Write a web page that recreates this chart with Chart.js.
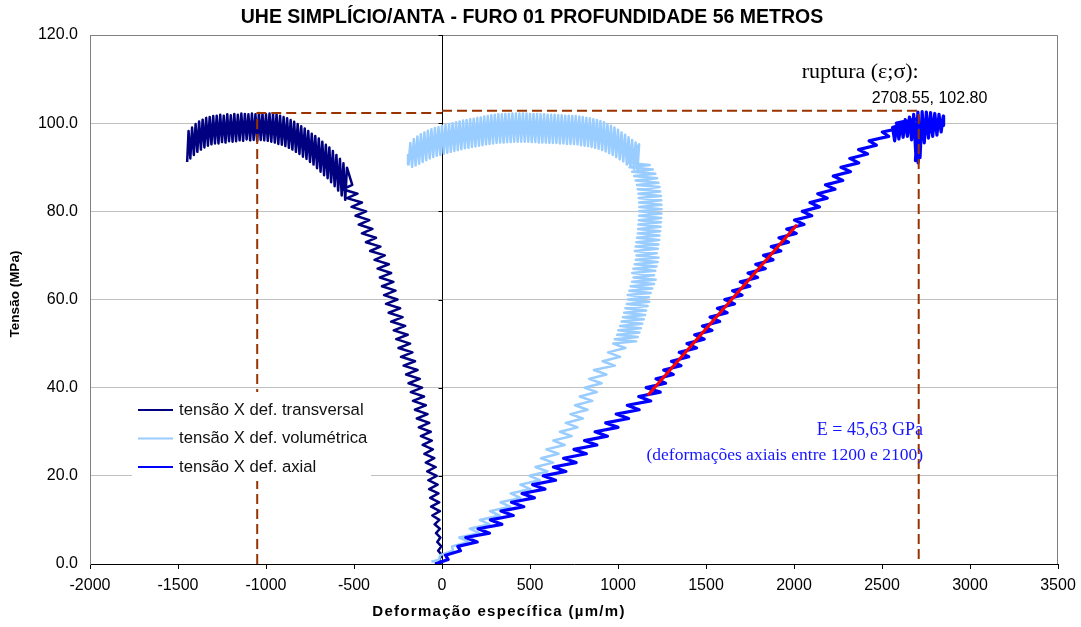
<!DOCTYPE html>
<html>
<head>
<meta charset="utf-8">
<style>
  html, body { margin: 0; padding: 0; background: #fff; }
</style>
</head>
<body>
<canvas id="grafico" width="1081" height="627"></canvas>
<script src="https://cdn.jsdelivr.net/npm/chart.js@4.4.0/dist/chart.umd.min.js"></script>
<script>
// eixos
const xTicks = [-2000, -1500, -1000, -500, 0, 500, 1000, 1500, 2000, 2500, 3000, 3500];
const yTicks = [0, 20, 40, 60, 80, 100, 120];

// ensaio: [deformação (µm/m), tensão (MPa)]
const transversal = [
  [-5,0],[-17,1],[0,2],[-22,3],[-4,4],[-27,5],[-9,6],[-34,7],[-12,8],[-42,9],[-15,10],[-55,11],[-12,12],
  [-62,13],[-16,14],[-67,15],[-20,16],[-73,17],[-25,18],[-78,19],[-30,20],[-84,21],[-36,22],[-92,23],
  [-44,24],[-100,25],[-52,26],[-110,27],[-58,28],[-120,29],[-64,30],[-132,31],[-72,32],[-143,33],[-82,34],
  [-154,35],[-92,36],[-165,37],[-102,38],[-177,39],[-113,40],[-190,41],[-126,42],[-204,43],[-139,44],
  [-218,45],[-153,46],[-233,47],[-168,48],[-247,49],[-181,50],[-260,51],[-195,52],[-274,53],[-209,54],
  [-289,55],[-224,56],[-303,57],[-238,58],[-318,59],[-253,60],[-329,61],[-264,62],[-341,63],[-276,64],
  [-353,65],[-289,66],[-366,67],[-302,68],[-383,69],[-325,70],[-408,71],[-350,72],[-432,73],[-375,74],
  [-455,75],[-395,76],[-473,77],[-413,78],[-491,79],[-431,80],[-514,81],[-455,82],[-540,83],[-480,84],
  [-565,85],[-510,86],
  [-540,89.9],[-550,82.6],[-560,90.9],[-570,83.6],[-580,91.9],[-590,84.7],[-600,92.8],[-610,85.7],
  [-620,93.7],[-630,86.6],[-640,94.5],[-650,87.5],[-660,95.1],[-670,88.2],[-680,95.8],[-690,89.0],
  [-700,96.5],[-710,89.8],[-720,97.1],[-730,90.6],[-740,97.6],[-750,91.2],[-760,98.2],[-770,91.9],
  [-780,98.8],[-790,92.4],[-800,99.3],[-810,93.0],[-820,99.8],[-830,93.5],[-840,100.3],[-850,94.0],
  [-860,100.7],[-870,94.4],[-880,101.1],[-890,94.8],[-900,101.4],[-910,95.1],[-920,101.7],[-930,95.3],
  [-940,102.0],[-950,95.6],[-960,102.1],[-970,95.8],[-980,102.2],[-990,96.0],[-1000,102.0],[-1010,96.1],
  [-1020,102.2],[-1030,96.2],[-1040,102.3],[-1050,96.0],[-1060,102.0],[-1070,96.2],[-1080,102.2],
  [-1090,96.1],[-1100,102.0],[-1110,96.3],[-1120,102.1],[-1130,96.0],[-1140,102.2],[-1150,96.1],
  [-1160,101.9],[-1170,95.9],[-1180,102.1],[-1190,95.8],[-1200,101.8],[-1210,95.9],[-1220,102.0],
  [-1230,95.6],[-1240,101.7],[-1250,95.7],[-1260,101.9],[-1270,95.4],[-1280,101.7],[-1290,95.4],
  [-1300,101.6],[-1310,95.2],[-1320,101.4],[-1330,94.9],[-1340,101.2],[-1350,94.5],[-1360,100.8],
  [-1370,94.0],[-1380,100.4],[-1390,93.5],[-1400,99.8],[-1410,92.8],[-1420,99.0],[-1430,92.0],
  [-1440,98.2],[-1448,91.2]
];

const volumetrica = [
  [-60,0.5],[-17,1],[-10,2],[63,3],[57,4],[152,5],[98,6],[212,7],[158,8],[270,9],[215,10],[327,11],
  [273,12],[387,13],[333,14],[445,15],[390,16],[502,17],[445,18],[555,19],[498,20],[599,21],[531,22],
  [632,23],[563,24],[662,25],[593,26],[697,27],[633,28],[737,29],[670,30],[770,31],[703,32],[800,33],
  [730,34],[827,35],[756,36],[854,37],[783,38],[880,39],[810,40],[907,41],[836,42],[934,43],[863,44],
  [982,45],[913,46],[1012,47],[943,48],[1042,49],[973,50],
  [1103,50.5],[982,51],[1112,51.5],[995,52],[1122,52.5],[1002,53],[1130,53.5],[1012,54],[1138,54.5],
  [1020,55],[1146,55.5],[1028,56],[1154,56.5],[1035,57],[1160,57.5],[1042,58],[1168,58.5],[1050,59],
  [1178,59.5],[1056,60],[1176,60.5],[1055,61],[1186,61.5],[1064,62],[1195,62.5],[1072,63],[1205,63.5],
  [1080,64],[1214,64.5],[1088,65],[1205,65.5],[1081,66],[1212,66.5],[1087,67],[1219,67.5],[1095,68],
  [1225,68.5],[1101,69],[1231,69.5],[1105,70],[1220,70.5],[1096,71],[1226,71.5],[1100,72],[1230,72.5],
  [1104,73],[1234,73.5],[1108,74],[1236,74.5],[1112,75],[1240,75.5],[1114,76],[1242,76.5],[1116,77],
  [1244,77.5],[1118,78],[1246,78.5],[1120,79],[1247,79.5],[1120,80],[1248,80.5],[1121,81],[1247,81.5],
  [1120,82],[1246,82.5],[1118,83],[1244,83.5],[1116,84],[1240,84.5],[1112,85],[1236,85.5],[1108,86],
  [1230,86.5],[1100,87],[1222,87.5],[1092,88],[1212,88.5],[1080,89],[1198,89.5],[1066,90],[1180,90.5],
  [1050,91],
  [1120,95.2],[1110,89.0],[1100,95.6],[1090,89.6],[1080,96.2],[1070,90.1],[1060,96.8],[1050,90.6],
  [1040,97.4],[1030,91.3],[1020,97.9],[1010,91.8],[1000,98.5],[990,92.3],[980,99.0],[970,92.8],
  [960,99.4],[950,93.2],[940,99.8],[930,93.6],[920,100.2],[910,93.9],[900,100.5],[890,94.2],
  [880,100.7],[870,94.4],[860,100.9],[850,94.6],[840,101.1],[830,94.8],[820,101.2],[810,94.9],
  [800,101.4],[790,95.0],[780,101.5],[770,95.2],[760,101.6],[750,95.3],[740,101.6],[730,95.3],
  [720,101.7],[710,95.3],[700,101.7],[690,95.4],[680,101.8],[670,95.4],[660,101.8],[650,95.5],
  [640,101.9],[630,95.5],[620,101.9],[610,95.5],[600,101.9],[590,95.6],[580,102.0],[570,95.6],
  [560,102.0],[550,95.6],[540,102.1],[530,95.7],[520,102.1],[510,95.7],[500,102.1],[490,95.8],
  [480,102.2],[470,95.8],[460,102.2],[450,95.8],[440,102.2],[430,95.8],[420,102.2],[410,95.8],
  [400,102.2],[390,95.7],[380,102.1],[370,95.7],[360,102.1],[350,95.6],[340,102.0],[330,95.6],
  [320,102.0],[310,95.5],[300,101.9],[290,95.4],[280,101.8],[270,95.3],[260,101.6],[250,95.2],
  [240,101.5],[230,95.0],[220,101.3],[210,94.9],[200,101.2],[190,94.7],[180,101.0],[170,94.6],
  [160,100.9],[150,94.4],[140,100.7],[130,94.3],[120,100.6],[110,94.1],[100,100.4],[90,93.9],
  [80,100.2],[70,93.7],[60,100.0],[50,93.5],[40,99.8],[30,93.3],[20,99.6],[10,93.1],[0,99.4],
  [-10,92.8],[-20,99.1],[-30,92.6],[-40,98.9],[-50,92.3],[-60,98.6],[-70,92.0],[-80,98.3],[-90,91.6],
  [-100,97.9],[-110,91.2],[-120,97.5],[-130,90.8],[-140,97.0],[-150,90.4],[-160,96.4],[-170,90.1],
  [-180,95.5],[-190,90.6],[-193,93]
];

const axial = [
  [-40,0],[35,1],[20,2],[105,3],[90,4],[200,5],[135,6],[270,7],[205,8],[340,9],[275,10],[405,11],
  [335,12],[465,13],[395,14],[525,15],[455,16],[585,17],[515,18],[645,19],[575,20],[704,21],[633,22],
  [762,23],[691,24],[820,25],[750,26],[880,27],[810,28],[940,29],[870,30],[1000,31],[930,32],[1060,33],
  [990,34],[1120,35],[1053,36],[1186,37],[1118,38],[1240,39],[1160,40],[1270,41],[1216,42],[1314,43],
  [1260,44],[1358,45],[1304,46],[1402,47],[1348,48],[1446,49],[1392,50],[1490,51],[1436,52],[1534,53],
  [1480,54],[1578,55],[1523,56],[1620,57],[1565,58],[1662,59],[1607,60],[1705,61],[1651,62],[1749,63],
  [1695,64],[1793,65],[1739,66],[1837,67],[1783,68],[1881,69],[1827,70],[1925,71],[1871,72],[1969,73],
  [1915,74],[2013,75],[1959,76],[2057,77],[2003,78],[2101,79],[2047,80],[2145,81],[2091,82],[2189,83],
  [2135,84],[2233,85],[2179,86],[2277,87],[2223,88],[2321,89],[2267,90],[2368,91],[2317,92],[2418,93],
  [2367,94],[2468,95],[2427,96],[2538,97],[2502,98],[2618,99],[2582,100],[2698,101],
  [2560,99.0],[2572,96.0],[2584,99.6],[2596,96.4],[2608,100.2],[2620,96.8],[2632,100.8],[2644,97.0],
  [2656,101.4],[2668,96.2],[2680,102.0],[2692,93.0],[2704,102.5],[2716,92.2],[2728,102.6],[2740,95.5],
  [2752,102.5],[2764,96.6],[2776,102.4],[2788,97.0],[2800,102.2],[2812,97.3],[2824,102.0],[2836,98.0],
  [2848,101.6],[2850,99.5],[2720,97],[2705,91],[2712,99.5],[2690,91.5],[2700,98]
];

// ruptura e módulo de elasticidade
const ruptura = { eps: 2708.55, sig: 102.80 };
const picoTransversal = { eps: -1050, sig: 102.3 };
const moduloE = 45.63;            // GPa
const ajusteEps = [1170, 2017];   // trecho da reta de ajuste
const ajusteSig0 = 38.3;

const pts = arr => arr.map(p => ({ x: p[0], y: p[1] }));
const fonte = '"Liberation Sans", Arial, sans-serif';
const serif = '"Liberation Serif", "Times New Roman", serif';

const retaAjuste = [
  { x: ajusteEps[0], y: ajusteSig0 },
  { x: ajusteEps[1], y: ajusteSig0 + moduloE * 1e-3 * (ajusteEps[1] - ajusteEps[0]) }
];

const extras = {
  id: 'extras',
  beforeDatasetsDraw(chart) {
    const { ctx, chartArea: a, scales: { x, y } } = chart;
    ctx.save();
    ctx.lineWidth = 1;
    ctx.strokeStyle = '#808080';
    ctx.beginPath();
    ctx.moveTo(a.left, a.top + 0.5);
    ctx.lineTo(a.right - 0.5, a.top + 0.5);
    ctx.lineTo(a.right - 0.5, a.bottom);
    ctx.stroke();
    // eixo das tensões passando em deformação zero
    const x0 = Math.round(x.getPixelForValue(0)) + 0.5;
    ctx.strokeStyle = '#000';
    ctx.beginPath();
    ctx.moveTo(x0, a.top);
    ctx.lineTo(x0, a.bottom);
    yTicks.forEach(v => {
      const py = Math.round(y.getPixelForValue(v)) + 0.5;
      ctx.moveTo(x0 - 4, py);
      ctx.lineTo(x0, py);
    });
    ctx.stroke();
    ctx.restore();
  },
  afterDatasetsDraw(chart) {
    const { ctx, scales: { x, y } } = chart;
    ctx.save();
    // legenda
    ctx.fillStyle = '#fff';
    ctx.fillRect(132, 392, 239, 89);
    ctx.textBaseline = 'middle';
    ctx.font = '16.7px ' + fonte;
    chart.data.datasets.filter(d => d.legenda).forEach((d, i) => {
      const yy = 410 + i * 28.5;
      ctx.strokeStyle = d.borderColor;
      ctx.lineWidth = 2;
      ctx.beginPath();
      ctx.moveTo(138, yy);
      ctx.lineTo(173, yy);
      ctx.stroke();
      ctx.fillStyle = '#111';
      ctx.fillText(d.label, 179, yy);
    });
    // ponto de ruptura
    const rx = x.getPixelForValue(ruptura.eps);
    const ry = y.getPixelForValue(ruptura.sig);
    ctx.fillStyle = '#000';
    ctx.font = '22px ' + serif;
    ctx.textAlign = 'left';
    ctx.fillText('ruptura (ε;σ):', rx - 117, ry - 39);
    ctx.font = '16px ' + fonte;
    ctx.fillText(ruptura.eps.toFixed(2) + ', ' + ruptura.sig.toFixed(2), rx - 47, ry - 12);
    // módulo
    ctx.fillStyle = '#1515ff';
    ctx.textAlign = 'right';
    ctx.font = '18px ' + serif;
    ctx.fillText('E = ' + moduloE.toFixed(2).replace('.', ',') + ' GPa', 923, 430);
    ctx.font = '17.5px ' + serif;
    ctx.fillText('(deformações axiais entre 1200 e 2100)', 923, 455);
    // títulos dos eixos
    ctx.fillStyle = '#000';
    ctx.textAlign = 'center';
    ctx.font = 'bold 13.5px ' + fonte;
    ctx.save();
    ctx.translate(15, 294);
    ctx.rotate(-Math.PI / 2);
    ctx.fillText('Tensão (MPa)', 0, 0);
    ctx.restore();
    ctx.font = 'bold 15px ' + fonte;
    ctx.letterSpacing = '1.3px';
    ctx.fillText('Deformação específica (µm/m)', 499, 612);
    ctx.restore();
  }
};

new Chart(document.getElementById('grafico'), {
  type: 'scatter',
  data: {
    datasets: [
      {
        label: 'ruptura',
        data: [{ x: 0, y: ruptura.sig }, { x: ruptura.eps, y: ruptura.sig }, { x: ruptura.eps, y: 0 }],
        borderColor: '#993300', borderWidth: 2, borderDash: [10, 5], order: 0
      },
      {
        label: 'pico',
        data: [{ x: picoTransversal.eps, y: 0 }, { x: picoTransversal.eps, y: picoTransversal.sig }, { x: 0, y: picoTransversal.sig }],
        borderColor: '#993300', borderWidth: 2, borderDash: [10, 5], order: 1
      },
      {
        label: 'ajuste',
        data: retaAjuste,
        borderColor: '#ff0000', borderWidth: 3, order: 2
      },
      {
        label: 'tensão X def. transversal', legenda: true,
        data: pts(transversal),
        borderColor: '#000080', borderWidth: 2.5, order: 5
      },
      {
        label: 'tensão X def. volumétrica', legenda: true,
        data: pts(volumetrica),
        borderColor: '#99ccff', borderWidth: 2.5, order: 4
      },
      {
        label: 'tensão X def. axial', legenda: true,
        data: pts(axial),
        borderColor: '#0000ff', borderWidth: 3.2, order: 3
      }
    ]
  },
  options: {
    responsive: false,
    animation: false,
    showLine: true,
    elements: { point: { radius: 0 }, line: { tension: 0, borderJoinStyle: 'round' } },
    layout: { padding: { top: 0, right: 23, bottom: 0, left: 6 } },
    plugins: {
      legend: { display: false },
      tooltip: { enabled: false },
      title: {
        display: true,
        text: 'UHE SIMPLÍCIO/ANTA - FURO 01 PROFUNDIDADE 56 METROS',
        color: '#000',
        font: { family: fonte, size: 19.5, weight: 'bold' },
        padding: { top: 6, bottom: 5.6 }
      }
    },
    scales: {
      x: {
        type: 'linear', min: -2000, max: 3500,
        afterBuildTicks: s => { s.ticks = xTicks.map(v => ({ value: v })); },
        afterFit: s => { s.height = 63; s.paddingLeft = 0; s.paddingRight = 0; },
        ticks: { color: '#000', font: { family: fonte, size: 16 }, padding: 7, maxRotation: 0, callback: v => String(v) },
        grid: { drawOnChartArea: false, drawTicks: true, tickLength: 5, color: '#000' },
        border: { color: '#000' }
      },
      y: {
        min: 0, max: 120,
        afterBuildTicks: s => { s.ticks = yTicks.map(v => ({ value: v })); },
        afterFit: s => { s.width = 84; },
        ticks: { color: '#000', font: { family: fonte, size: 16 }, padding: 12, callback: v => v.toFixed(1) },
        grid: { color: '#c0c0c0', drawTicks: false },
        border: { color: '#808080' }
      }
    }
  },
  plugins: [extras]
});
</script>
</body>
</html>
